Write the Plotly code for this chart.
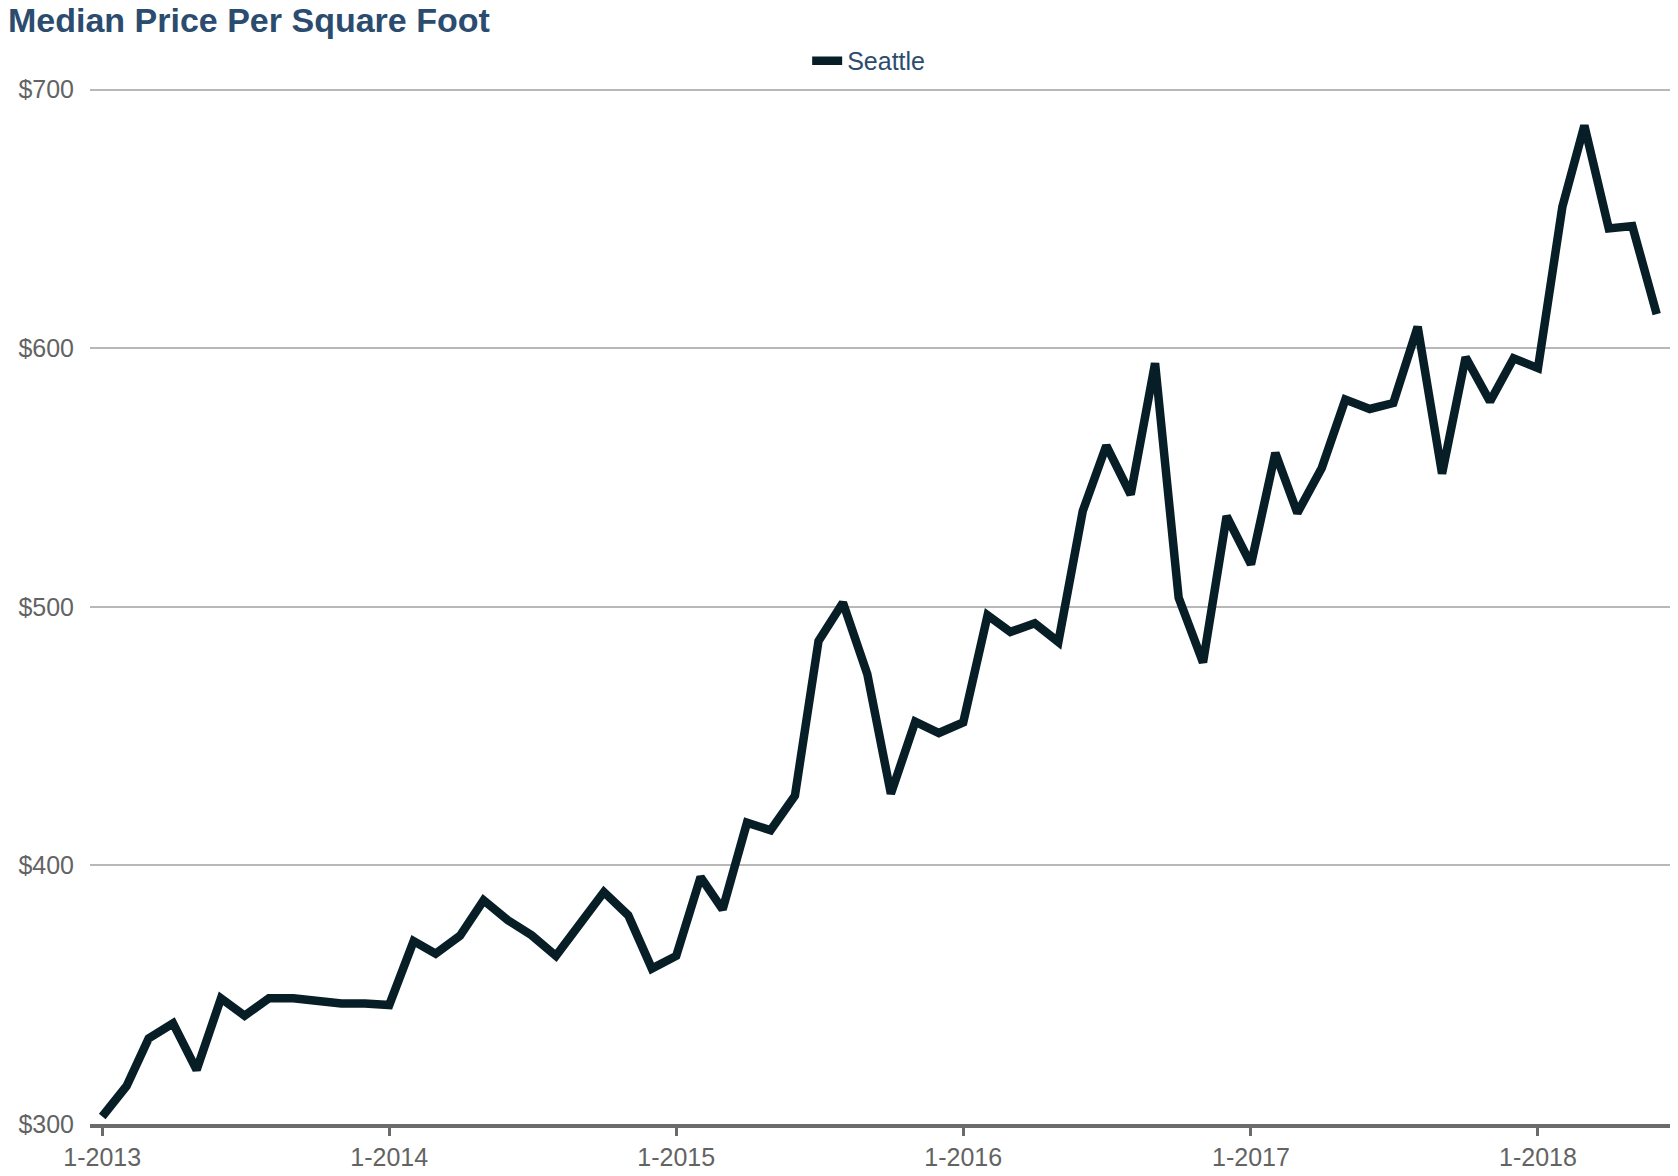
import plotly.graph_objects as go
import pandas as pd

months = pd.date_range("2013-01-01", "2018-06-01", freq="MS").strftime("%Y-%m-%d").tolist()

seattle = [
    302.9, 314.7, 333.1, 338.9, 320.9, 348.6, 341.9, 348.6, 348.6, 347.7, 346.6, 346.6,
    346.0, 370.7, 365.9, 372.8, 386.5, 378.8, 373.0, 365.0, 377.5, 389.7, 380.7, 360.1,
    365.0, 395.5, 383.0, 416.5, 413.6, 427.0, 486.8, 501.6, 474.0, 427.7, 455.6, 451.2,
    455.3, 496.7, 490.3, 493.6, 486.4, 537.0, 562.3, 543.4, 594.2, 503.5, 478.5, 535.0,
    516.4, 559.5, 536.3, 553.7, 580.1, 576.5, 578.8, 608.3, 551.5, 596.5, 579.4, 596.1,
    592.3, 654.6, 686.1, 646.3, 647.2, 613.2,
]

x_tick_vals = ["2013-01-01", "2014-01-01", "2015-01-01", "2016-01-01", "2017-01-01", "2018-01-01"]
x_tick_text = ["1-2013", "1-2014", "1-2015", "1-2016", "1-2017", "1-2018"]
y_tick_vals = [300, 400, 500, 600, 700]
y_tick_text = ["$300", "$400", "$500", "$600", "$700"]

FONT = "Liberation Sans, Arial, sans-serif"
BLUE = "#2b4c6f"
GRAY_TXT = "#636363"

fig = go.Figure()
fig.add_trace(go.Scatter(
    x=months, y=seattle, name="Seattle", mode="lines",
    line=dict(color="#071e26", width=8.5),
))

fig.update_layout(
    width=1678, height=1176,
    margin=dict(l=82, r=16, t=79, b=60, autoexpand=False),
    paper_bgcolor="white", plot_bgcolor="white",
    title=dict(
        text="<b>Median Price Per Square Foot</b>",
        font=dict(family=FONT, size=34, color=BLUE),
        x=0, xref="container", xanchor="left",
        y=1 - 12 / 1176, yref="container", yanchor="middle",
    ),
    showlegend=True,
    legend=dict(
        orientation="h", x=0.4539, xanchor="left", y=1.0251, yanchor="middle",
        font=dict(family=FONT, size=25, color=BLUE),
        bgcolor="rgba(0,0,0,0)",
    ),
    xaxis=dict(
        type="date", automargin=False,
        range=["2012-12-16 10:00", "2018-06-17 22:00"],
        tickvals=x_tick_vals, ticktext=x_tick_text,
        showgrid=False, zeroline=False,
        showline=True, linecolor="#6b6b6b", linewidth=4,
        ticks="outside", ticklen=8, tickwidth=3, tickcolor="#6b6b6b",
        tickfont=dict(family=FONT, size=25, color=GRAY_TXT),
    ),
    yaxis=dict(
        range=[300, 701], automargin=False,
        tickvals=y_tick_vals, ticktext=y_tick_text,
        showgrid=True, gridcolor="#b8b8b8", gridwidth=2,
        zeroline=False, showline=False, ticks="",
        ticklabelstandoff=15,
        tickfont=dict(family=FONT, size=25, color=GRAY_TXT),
    ),
)

fig.write_html("out.html")
